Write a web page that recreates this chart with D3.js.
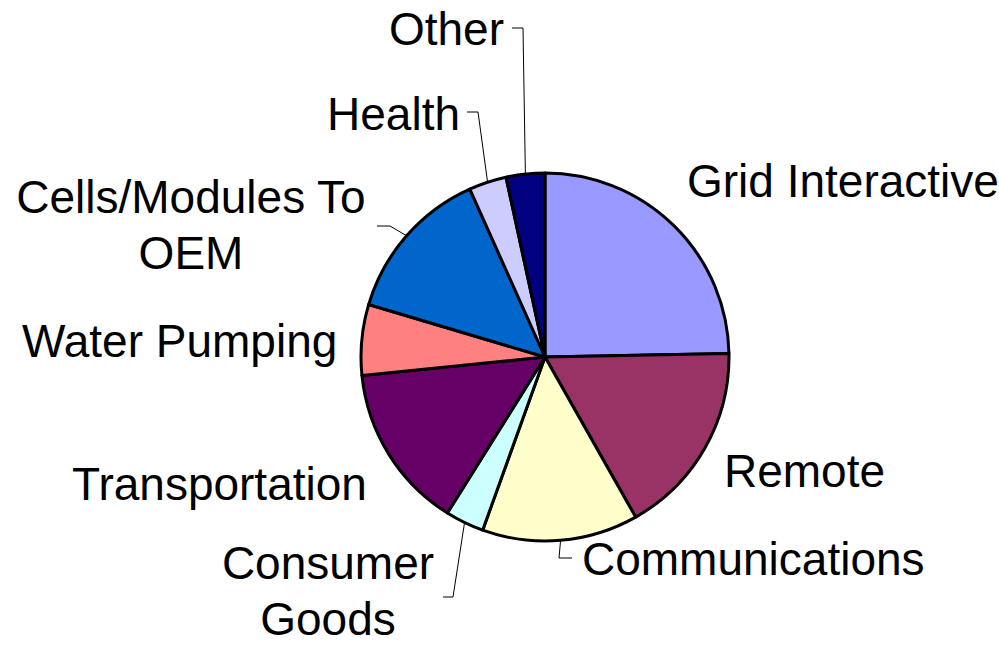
<!DOCTYPE html>
<html>
<head>
<meta charset="utf-8">
<script src="https://cdn.jsdelivr.net/npm/d3@7"></script>
<style>
  body { margin: 0; background: #fff; }
  svg text { font-family: "Liberation Sans", Arial, sans-serif; font-size: 46px; fill: #000; }
</style>
</head>
<body>
<div id="chart"></div>
<script>
// market share by application (%), clockwise from 12 o'clock
const categories = ["Grid Interactive", "Remote", "Communications", "Consumer Goods",
    "Transportation", "Water Pumping", "Cells/Modules To OEM", "Health", "Other"];
const shares = [24.7, 17.1, 13.7, 3.4, 14.5, 6.2, 13.7, 3.3, 3.4];
const colors = ["#9999FF", "#993366", "#FFFFCC", "#CCFFFF", "#660066",
    "#FF8080", "#0066CC", "#CCCCFF", "#000080"];

// label placement: text lines, anchor point, and leader elbow (if any)
const labelLayout = {
    "Grid Interactive": { lines: ["Grid Interactive"], x: 687, y: 197, anchor: "start" },
    "Remote": { lines: ["Remote"], x: 724, y: 487, anchor: "start" },
    "Communications": { lines: ["Communications"], x: 582, y: 575, anchor: "start", elbow: [559, 558], end: [572, 558] },
    "Consumer Goods": { lines: ["Consumer", "Goods"], x: 328, y: 579, anchor: "middle", elbow: [453, 597], end: [443, 597] },
    "Transportation": { lines: ["Transportation"], x: 72, y: 500, anchor: "start" },
    "Water Pumping": { lines: ["Water Pumping"], x: 22, y: 357, anchor: "start" },
    "Cells/Modules To OEM": { lines: ["Cells/Modules To", "OEM"], x: 191, y: 213, anchor: "middle", elbow: [390, 226], end: [377, 226] },
    "Health": { lines: ["Health"], x: 460, y: 130, anchor: "end", elbow: [478, 112], end: [467, 112] },
    "Other": { lines: ["Other"], x: 504, y: 45, anchor: "end", elbow: [523, 28], end: [512, 28] }
};

const width = 999, height = 647;
const cx = 545, cy = 357, radius = 184;
const lineGap = 56;

const svg = d3.select("#chart").append("svg")
    .attr("width", width)
    .attr("height", height);

const pieData = categories.map((c, i) => ({ name: c, value: shares[i], color: colors[i] }));

const pie = d3.pie().sort(null).value(d => d.value);
const arcs = pie(pieData);
const arcGen = d3.arc().innerRadius(0).outerRadius(radius);

let g = svg.append("g").attr("transform", "translate(" + cx + "," + cy + ")");

g.selectAll("path.slice")
    .data(arcs)
    .join("path")
    .classed("slice", true)
    .attr("d", arcGen)
    .attr("fill", d => d.data.color)
    .attr("stroke", "#000")
    .attr("stroke-width", 3)
    .attr("stroke-linejoin", "round");

// leader lines
arcs.forEach(a => {
    let lay = labelLayout[a.data.name];
    if (!lay.elbow) return;
    let mid = (a.startAngle + a.endAngle) / 2;
    let px = cx + radius * Math.sin(mid);
    let py = cy - radius * Math.cos(mid);
    svg.append("polyline")
        .attr("points", [[px, py], lay.elbow, lay.end].map(p => p.join(",")).join(" "))
        .attr("fill", "none")
        .attr("stroke", "#000")
        .attr("stroke-width", 1);
});

// labels
categories.forEach(c => {
    let lay = labelLayout[c];
    let t = svg.append("text")
        .attr("text-anchor", lay.anchor)
        .attr("x", lay.x)
        .attr("y", lay.y);
    lay.lines.forEach((ln, i) => {
        t.append("tspan")
            .attr("x", lay.x)
            .attr("y", lay.y + i * lineGap)
            .text(ln);
    });
});
</script>
</body>
</html>
